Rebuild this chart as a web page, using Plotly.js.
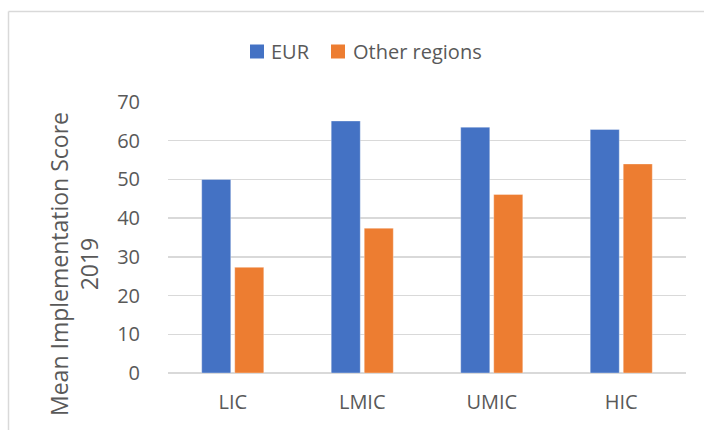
<!DOCTYPE html>
<html>
<head>
<meta charset="utf-8">
<script src="https://cdn.plot.ly/plotly-3.0.1.min.js"></script>
<style>
  html, body { margin: 0; padding: 0; background: #ffffff; }
  #chart { width: 704px; height: 430px; }
</style>
</head>
<body>
<div id="chart"></div>
<script>
const categories = ["LIC", "LMIC", "UMIC", "HIC"];
const eurValues = [50.0, 65.1, 63.5, 62.9];
const otherValues = [27.3, 37.4, 46.1, 54.0];
const seriesNames = ["EUR", "Other regions"];
const yTickValues = [0, 10, 20, 30, 40, 50, 60, 70];
const yTitleText = "Mean Implementation Score<br>2019";

const W = 704, H = 430;
const M = { l: 168, r: 18, t: 102, b: 57 };
const pw = W - M.l - M.r, ph = H - M.t - M.b;
const px = x => (x - M.l) / pw;
const py = y => (H - M.b - y) / ph;

const textColor = "#595959";
const gridColor = "#d9d9d9";
const font = "'Open Sans', sans-serif";
const colors = ["#4472C4", "#ED7D31"];

const traces = [
  {
    type: "bar", name: seriesNames[0], x: categories, y: eurValues,
    marker: { color: colors[0], line: { color: "rgba(255,255,255,0.35)", width: 1 } },
    hoverinfo: "skip"
  },
  {
    type: "bar", name: seriesNames[1], x: categories, y: otherValues,
    marker: { color: colors[1], line: { color: "rgba(255,255,255,0.35)", width: 1 } },
    hoverinfo: "skip"
  }
];

// legend drawn as swatches + labels (series names/colours from above)
const legendItems = [
  { sw: 250, tx: 269 },
  { sw: 331, tx: 351 }
];
const legendShapes = legendItems.map((it, i) => ({
  type: "rect", xref: "paper", yref: "paper",
  x0: px(it.sw), x1: px(it.sw + 14), y0: py(44.5), y1: py(58.5),
  fillcolor: colors[i], line: { width: 0 }
}));
const legendTexts = legendItems.map((it, i) => ({
  text: seriesNames[i], xref: "paper", yref: "paper",
  x: px(it.tx), y: py(51.5), xanchor: "left", yanchor: "middle",
  showarrow: false, font: { family: font, size: 20, color: textColor }
}));

const layout = {
  width: W, height: H,
  margin: M,
  paper_bgcolor: "#ffffff",
  plot_bgcolor: "#ffffff",
  font: { family: font, color: textColor, size: 20 },
  barmode: "group",
  bargap: 0.49,
  bargroupgap: 0.12,
  showlegend: false,
  xaxis: {
    type: "category",
    showgrid: false,
    showline: false,
    zeroline: false,
    ticks: "",
    ticklabelstandoff: 15,
    tickfont: { family: font, size: 20, color: textColor },
    fixedrange: true
  },
  yaxis: {
    range: [0, 70],
    tickvals: yTickValues,
    showgrid: true,
    gridcolor: gridColor,
    gridwidth: 1.5,
    zeroline: true,
    zerolinecolor: gridColor,
    zerolinewidth: 1.5,
    showline: false,
    ticks: "",
    ticklabelstandoff: 27,
    tickfont: { family: font, size: 20, color: textColor },
    fixedrange: true
  },
  annotations: [
    {
      text: yTitleText,
      xref: "paper", yref: "paper",
      x: px(74), y: py(264),
      xanchor: "center", yanchor: "middle",
      textangle: -90,
      showarrow: false,
      font: { family: font, size: 23, color: textColor }
    }
  ].concat(legendTexts),
  shapes: [
    { type: "line", xref: "paper", yref: "paper", x0: px(8.5), x1: px(710), y0: py(11.5), y1: py(11.5),
      line: { color: gridColor, width: 1.5 } },
    { type: "line", xref: "paper", yref: "paper", x0: px(8.5), x1: px(8.5), y0: py(11.5), y1: py(440),
      line: { color: gridColor, width: 1.5 } }
  ].concat(legendShapes)
};

Plotly.newPlot("chart", traces, layout, { staticPlot: true, displayModeBar: false });
</script>
</body>
</html>
